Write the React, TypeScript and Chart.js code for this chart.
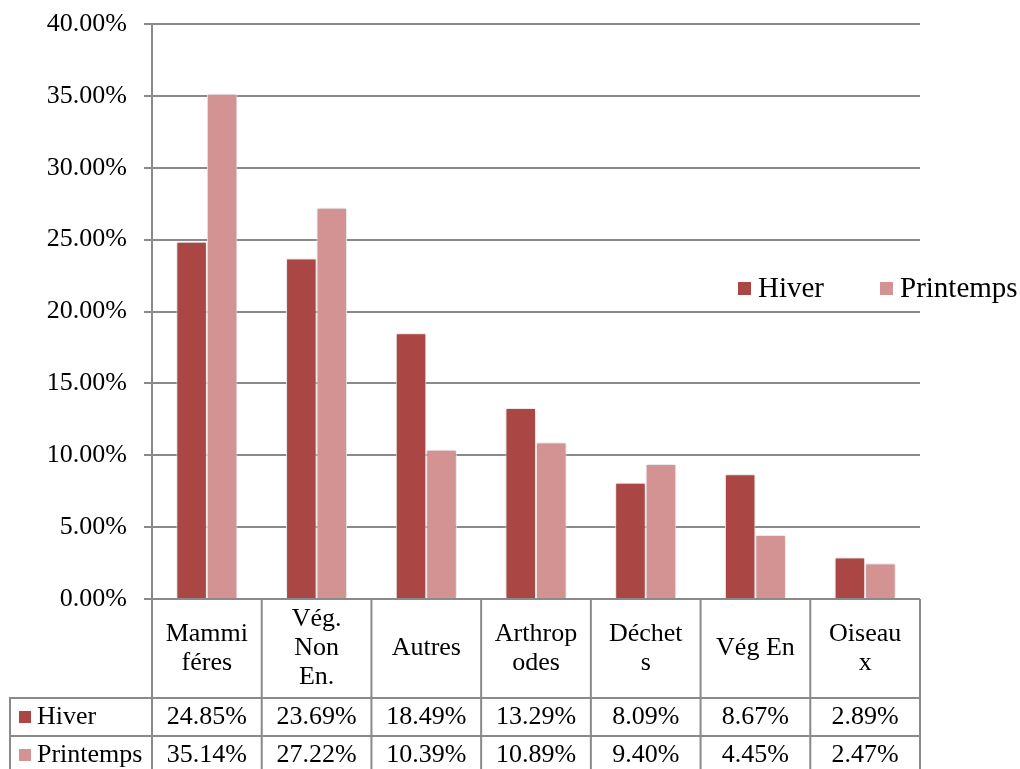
import React, { useEffect, useRef } from "react";
import { Chart, registerables } from "chart.js";

Chart.register(...registerables);

// Diet categories (wrapped the way they appear in the table header)
const categoryLines: string[][] = [
  ["Mammi", "féres"],
  ["Vég.", "Non", "En."],
  ["Autres"],
  ["Arthrop", "odes"],
  ["Déchet", "s"],
  ["Vég En"],
  ["Oiseau", "x"],
];
const categories = categoryLines.map((l) => l.join(""));

const seriesNames = ["Hiver", "Printemps"];
const hiver = [24.85, 23.69, 18.49, 13.29, 8.09, 8.67, 2.89];
const printemps = [35.14, 27.22, 10.39, 10.89, 9.4, 4.45, 2.47];
const seriesColors = ["#AA4643", "#D39393"];

const yTicks = [0, 5, 10, 15, 20, 25, 30, 35, 40];

const FONT = "Liberation Serif, 'Times New Roman', serif";
const FONT_SIZE = 26;
const LEGEND_FONT_SIZE = 29;
const LINE_COLOR = "#8a8a8a";
const fmt = (v: number) => `${v.toFixed(2)}%`;

// Soft shadow behind the bars
const barShadow = {
  id: "barShadow",
  beforeDatasetsDraw(chart: any) {
    const ctx = chart.ctx;
    ctx.save();
    ctx.shadowColor = "rgba(0,0,0,0.22)";
    ctx.shadowBlur = 4;
    ctx.shadowOffsetX = 0;
    ctx.shadowOffsetY = 0;
  },
  afterDatasetsDraw(chart: any) {
    chart.ctx.restore();
  },
};

// Legend placed at the right, overlapping the plot area edge
const sideLegend = {
  id: "sideLegend",
  afterDraw(chart: any) {
    const ctx = chart.ctx;
    ctx.save();
    ctx.font = `${LEGEND_FONT_SIZE}px ${FONT}`;
    ctx.textBaseline = "middle";
    ctx.textAlign = "left";
    const y = 289;
    const items = [
      { x: 738, name: seriesNames[0], color: seriesColors[0] },
      { x: 880, name: seriesNames[1], color: seriesColors[1] },
    ];
    for (const it of items) {
      ctx.fillStyle = it.color;
      ctx.fillRect(it.x, y - 7, 13, 13);
      ctx.fillStyle = "#000";
      ctx.fillText(it.name, it.x + 20, y);
    }
    ctx.restore();
  },
};

// Data table under the plot: header with category names, one row per series
const dataTable = {
  id: "dataTable",
  afterDraw(chart: any) {
    const ctx = chart.ctx;
    const area = chart.chartArea;
    const xs = chart.scales.x;
    const n = categories.length;
    const half = (area.right - area.left) / (2 * n);
    const bounds: number[] = [];
    for (let i = 0; i < n; i++) bounds.push(xs.getPixelForValue(i) - half);
    bounds.push(xs.getPixelForValue(n - 1) + half);

    const top = area.bottom;
    const headerBottom = top + 99;
    const rowH = 38;
    const row1Bottom = headerBottom + rowH;
    const bottom = chart.height + 10;
    const leftEdge = 10;

    ctx.save();
    ctx.strokeStyle = LINE_COLOR;
    ctx.lineWidth = 2;
    ctx.beginPath();
    ctx.moveTo(area.left, top);
    ctx.lineTo(area.right, top);
    ctx.moveTo(leftEdge - 1, headerBottom);
    ctx.lineTo(area.right + 1, headerBottom);
    ctx.moveTo(leftEdge - 1, row1Bottom);
    ctx.lineTo(area.right + 1, row1Bottom);
    for (const b of bounds) {
      ctx.moveTo(b, top);
      ctx.lineTo(b, bottom);
    }
    ctx.moveTo(leftEdge, headerBottom);
    ctx.lineTo(leftEdge, bottom);
    ctx.stroke();

    ctx.fillStyle = "#000";
    ctx.font = `${FONT_SIZE}px ${FONT}`;
    ctx.textAlign = "center";
    ctx.textBaseline = "middle";
    const headerMid = (top + headerBottom) / 2;
    const lh = 29;
    categoryLines.forEach((lines, i) => {
      const cx = xs.getPixelForValue(i);
      const y0 = headerMid - ((lines.length - 1) * lh) / 2;
      lines.forEach((t, k) => ctx.fillText(t, cx, y0 + k * lh));
    });

    const rows = [hiver, printemps];
    const rowMids = [(headerBottom + row1Bottom) / 2, row1Bottom + rowH / 2];
    rows.forEach((vals, r) => {
      vals.forEach((v, i) => {
        ctx.fillText(fmt(v), xs.getPixelForValue(i), rowMids[r]);
      });
      ctx.fillStyle = seriesColors[r];
      ctx.fillRect(19, rowMids[r] - 6, 12, 12);
      ctx.fillStyle = "#000";
      ctx.textAlign = "left";
      ctx.fillText(seriesNames[r], 37, rowMids[r]);
      ctx.textAlign = "center";
    });
    ctx.restore();
  },
};

export default function App() {
  const ref = useRef<HTMLCanvasElement | null>(null);

  useEffect(() => {
    if (!ref.current) return;
    const chart = new Chart(ref.current, {
      type: "bar",
      data: {
        labels: categories,
        datasets: [
          {
            label: seriesNames[0],
            data: hiver,
            backgroundColor: seriesColors[0],
            borderColor: "#ffffff",
            borderWidth: 1,
          },
          {
            label: seriesNames[1],
            data: printemps,
            backgroundColor: seriesColors[1],
            borderColor: "#ffffff",
            borderWidth: 1,
          },
        ],
      },
      options: {
        animation: false,
        responsive: false,
        maintainAspectRatio: false,
        layout: { padding: { top: 24, right: 100, bottom: 170, left: 0 } },
        datasets: {
          bar: { categoryPercentage: 0.556, barPercentage: 1 },
        },
        plugins: {
          legend: { display: false },
          tooltip: { enabled: false },
        },
        scales: {
          x: { display: false },
          y: {
            min: 0,
            max: 40,
            afterBuildTicks(scale: any) {
              scale.ticks = yTicks.map((v) => ({ value: v }));
            },
            afterFit(scale: any) {
              scale.width = 152;
              scale.paddingTop = 0;
              scale.paddingBottom = 0;
            },
            ticks: {
              callback: (v: any) => fmt(Number(v)),
              color: "#000",
              font: { family: FONT, size: FONT_SIZE },
              padding: 17,
            },
            grid: {
              color: LINE_COLOR,
              lineWidth: 2,
              tickLength: 8,
              drawTicks: true,
            },
            border: { color: LINE_COLOR, width: 2 },
          },
        },
      },
      plugins: [barShadow, sideLegend, dataTable],
    });
    return () => chart.destroy();
  }, []);

  return (
    <div style={{ position: "absolute", left: 0, top: 0, width: 1020, height: 769, background: "#fff" }}>
      <canvas ref={ref} width={1020} height={769} style={{ display: "block" }} />
    </div>
  );
}
